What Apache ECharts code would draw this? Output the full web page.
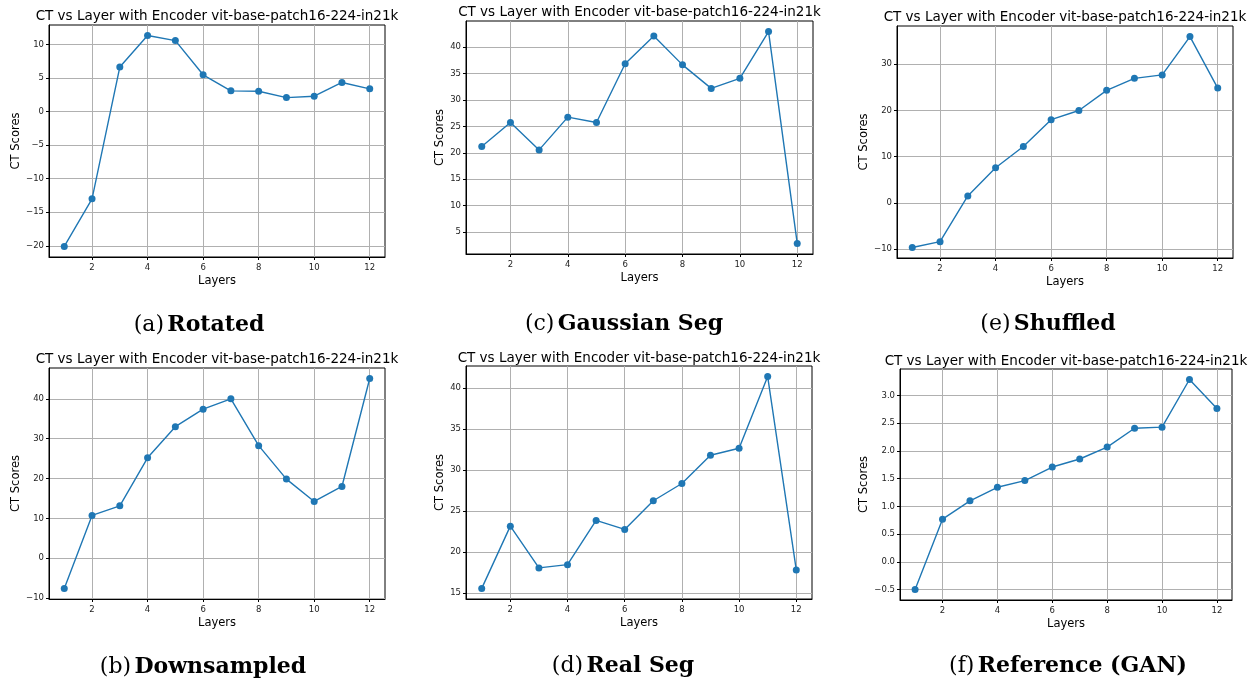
<!DOCTYPE html>
<html>
<head>
<meta charset="utf-8">
<title>CT vs Layer</title>
<script src="https://cdn.jsdelivr.net/npm/echarts@6/dist/echarts.min.js"></script>
<style>
  html, body { margin: 0; padding: 0; background: #fff; }
  #chart { width: 1250px; height: 681px; }
</style>
</head>
<body>
<div id="chart"></div>
<script>
// data
const layers = [1, 2, 3, 4, 5, 6, 7, 8, 9, 10, 11, 12]
const xTicks = [2, 4, 6, 8, 10, 12]

const rotated = [-20.1, -13.0, 6.65, 11.35, 10.6, 5.5, 3.1, 3.05, 2.1, 2.3, 4.35, 3.4]
const gaussianSeg = [21.2, 25.75, 20.55, 26.75, 25.75, 36.85, 42.1, 36.65, 32.2, 34.1, 42.95, 2.85]
const shuffled = [-9.65, -8.4, 1.5, 7.6, 12.2, 18.0, 20.0, 24.35, 26.95, 27.7, 36.0, 24.85]
const downsampled = [-7.6, 10.75, 13.15, 25.2, 33.0, 37.4, 40.0, 28.25, 19.85, 14.25, 18.0, 45.1]
const realSeg = [15.55, 23.15, 18.05, 18.45, 23.85, 22.75, 26.25, 28.35, 31.8, 32.65, 41.4, 17.8]
const referenceGan = [-0.5, 0.77, 1.1, 1.345, 1.465, 1.71, 1.855, 2.07, 2.41, 2.43, 3.29, 2.765]

const yTicksRotated = [-20, -15, -10, -5, 0, 5, 10]
const yTicksGaussian = [5, 10, 15, 20, 25, 30, 35, 40]
const yTicksShuffled = [-10, 0, 10, 20, 30]
const yTicksDown = [-10, 0, 10, 20, 30, 40]
const yTicksReal = [15, 20, 25, 30, 35, 40]
const yTicksGan = [-0.5, 0, 0.5, 1, 1.5, 2, 2.5, 3]

const titleText = 'CT vs Layer with Encoder vit-base-patch16-224-in21k'

// one entry per sub figure: data + where it sits on the page
const panels = [
  { values: rotated, ticks: yTicksRotated, dec: 0, tag: '(a)', name: 'Rotated',
    left: 49, top: 25, width: 336, height: 232, nameGap: 26, titleY: 15, capX: 199, capY: 325 },
  { values: gaussianSeg, ticks: yTicksGaussian, dec: 0, tag: '(c)', name: 'Gaussian Seg',
    left: 466, top: 21, width: 347, height: 233, nameGap: 19, titleY: 11, capX: 624, capY: 324 },
  { values: shuffled, ticks: yTicksShuffled, dec: 0, tag: '(e)', name: 'Shuffled',
    left: 897, top: 26, width: 336, height: 232, nameGap: 25, titleY: 16, capX: 1048, capY: 324 },
  { values: downsampled, ticks: yTicksDown, dec: 0, tag: '(b)', name: 'Downsampled',
    left: 49, top: 368, width: 336, height: 231, nameGap: 26, titleY: 358, capX: 203, capY: 667 },
  { values: realSeg, ticks: yTicksReal, dec: 0, tag: '(d)', name: 'Real Seg',
    left: 466, top: 366, width: 346, height: 233, nameGap: 19, titleY: 357, capX: 623, capY: 666 },
  { values: referenceGan, ticks: yTicksGan, dec: 1, tag: '(f)', name: 'Reference (GAN)',
    left: 900, top: 369, width: 332, height: 231, nameGap: 28, titleY: 360, capX: 1068, capY: 666 }
]

const FONT = 'DejaVu Sans'
const BLUE = '#1f77b4'

function fmt(v, dec) {
  return v.toFixed(dec).replace('-', '\u2212')
}

const chart = echarts.init(document.getElementById('chart'), null, { renderer: 'canvas' })

const grids = []
const xAxes = []
const yAxes = []
const series = []
const graphics = []

panels.forEach((p, i) => {
  const lo = Math.min(...p.values)
  const hi = Math.max(...p.values)
  const pad = (hi - lo) * 0.05

  grids.push({
    left: p.left, top: p.top, width: p.width, height: p.height,
    show: true, borderColor: '#000', borderWidth: 1, backgroundColor: '#fff'
  })

  xAxes.push({
    type: 'value', gridIndex: i, min: 0.45, max: 12.55, position: 'bottom',
    name: 'Layers', nameLocation: 'middle', nameGap: 18,
    nameTextStyle: { fontFamily: FONT, fontSize: 11.5, color: '#000' },
    axisLine: { show: true, onZero: false, lineStyle: { color: '#000', width: 1 } },
    axisTick: { show: true, inside: false, length: 3, lineStyle: { color: '#000' }, customValues: xTicks },
    axisLabel: { fontFamily: FONT, fontSize: 8.5, color: '#222', margin: 6, customValues: xTicks,
      formatter: v => String(v) },
    splitLine: { show: true, lineStyle: { color: '#b0b0b0', width: 1 } }
  })

  yAxes.push({
    type: 'value', gridIndex: i, min: lo - pad, max: hi + pad, position: 'left',
    name: 'CT Scores', nameLocation: 'middle', nameGap: p.nameGap,
    nameTextStyle: { fontFamily: FONT, fontSize: 11.5, color: '#000' },
    axisLine: { show: true, onZero: false, lineStyle: { color: '#000', width: 1 } },
    axisTick: { show: true, inside: false, length: 3, lineStyle: { color: '#000' }, customValues: p.ticks },
    axisLabel: { fontFamily: FONT, fontSize: 8.5, color: '#222', margin: 5, customValues: p.ticks,
      formatter: v => fmt(v, p.dec) },
    splitLine: { show: true, lineStyle: { color: '#b0b0b0', width: 1 } }
  })

  series.push({
    type: 'line', xAxisIndex: i, yAxisIndex: i,
    data: layers.map((l, k) => [l, p.values[k]]),
    symbol: 'circle', symbolSize: 7,
    itemStyle: { color: BLUE },
    lineStyle: { color: BLUE, width: 1.4 },
    animation: false
  })

  // plot title
  graphics.push({
    type: 'text', x: p.left + p.width / 2, y: p.titleY + 1,
    style: { text: titleText, font: '13.5px "DejaVu Sans"', fill: '#000',
      textAlign: 'center', textVerticalAlign: 'middle' }
  })

  // latex-like caption under the plot
  graphics.push({
    type: 'text', x: p.capX, y: p.capY,
    style: {
      text: '{n|' + p.tag + '} {b|' + p.name + '}',
      textAlign: 'center', textVerticalAlign: 'middle',
      rich: {
        n: { fontFamily: 'DejaVu Serif', fontSize: 22, color: '#000' },
        b: { fontFamily: 'DejaVu Serif', fontSize: 22, fontWeight: 'bold', color: '#000' }
      }
    }
  })
})

chart.setOption({
  backgroundColor: '#fff',
  animation: false,
  grid: grids,
  xAxis: xAxes,
  yAxis: yAxes,
  series: series,
  graphic: graphics
})
</script>
</body>
</html>
